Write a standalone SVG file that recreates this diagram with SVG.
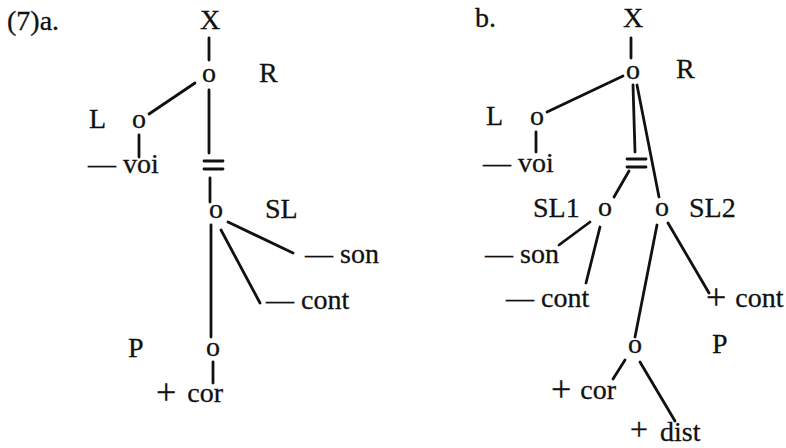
<svg xmlns="http://www.w3.org/2000/svg" width="786" height="448" viewBox="0 0 786 448">
<style>
text{font-family:"Liberation Serif","Times New Roman",serif;font-size:28px;fill:#111;stroke:#111;stroke-width:0.3}
.n{text-anchor:middle}
.p{font-size:36px}
.w{font-size:28px}
.c line{stroke:#111;stroke-width:2.8;stroke-linecap:round}
</style>
<rect width="786" height="448" fill="#fff"/>
<g id="labels">
<text x="7" y="30">(7)a.</text>
<text x="475" y="27">b.</text>
</g>
<g class="c" id="connectors">
<line x1="209" y1="38" x2="209" y2="60"/>
<line x1="195" y1="83" x2="149" y2="114"/>
<line x1="139" y1="135" x2="139" y2="157"/>
<line x1="209" y1="90" x2="209" y2="153"/>
<line x1="204" y1="161" x2="223" y2="161"/>
<line x1="204" y1="169" x2="223" y2="169"/>
<line x1="210" y1="178" x2="210" y2="202"/>
<line x1="228" y1="222" x2="293" y2="253"/>
<line x1="221" y1="230" x2="260" y2="303"/>
<line x1="211" y1="225" x2="211" y2="337"/>
<line x1="213" y1="362" x2="213" y2="383"/>
<line x1="631" y1="38" x2="631" y2="58"/>
<line x1="623" y1="76" x2="547" y2="112"/>
<line x1="536" y1="132" x2="536" y2="152"/>
<line x1="633" y1="85" x2="635" y2="152"/>
<line x1="627" y1="159" x2="646" y2="159"/>
<line x1="627" y1="167" x2="646" y2="167"/>
<line x1="629" y1="171" x2="614" y2="197"/>
<line x1="637" y1="85" x2="659" y2="197"/>
<line x1="590" y1="222" x2="559" y2="245"/>
<line x1="600" y1="227" x2="586" y2="283"/>
<line x1="668" y1="223" x2="709" y2="293"/>
<line x1="657" y1="225" x2="635" y2="337"/>
<line x1="625" y1="360" x2="613" y2="379"/>
<line x1="640" y1="362" x2="675" y2="421"/>
</g>
<g id="a-X"><text class="n" x="210" y="29">X</text></g>
<g id="a-R"><text class="n" x="209" y="82">o</text><text x="259" y="82">R</text></g>
<g id="a-L"><text class="n" x="139" y="128">o</text><text x="89" y="128">L</text></g>
<g id="a-voi"><text x="88" y="173">— voi</text></g>
<g id="a-SL"><text class="n" x="216" y="218">o</text><text x="265" y="218">SL</text></g>
<g id="a-son"><text x="305" y="263">— son</text></g>
<g id="a-cont"><text x="266" y="309">— cont</text></g>
<g id="a-P"><text class="n" x="213" y="356">o</text><text x="128" y="357">P</text></g>
<g id="a-cor"><text class="p" x="156" y="404">+<tspan class="w" dx="4" dy="-2"> cor</tspan></text></g>
<g id="b-X"><text class="n" x="633" y="27">X</text></g>
<g id="b-R"><text class="n" x="633" y="79">o</text><text x="676" y="78">R</text></g>
<g id="b-L"><text class="n" x="537" y="125">o</text><text x="486" y="125">L</text></g>
<g id="b-voi"><text x="483" y="172">— voi</text></g>
<g id="b-SL1"><text class="n" x="605" y="216">o</text><text x="533" y="217">SL1</text></g>
<g id="b-SL2"><text class="n" x="662" y="216">o</text><text x="689" y="217">SL2</text></g>
<g id="b-son"><text x="485" y="263">— son</text></g>
<g id="b-cont1"><text x="506" y="307">— cont</text></g>
<g id="b-cont2"><text class="p" x="706" y="309">+<tspan class="w" dx="2" dy="-2"> cont</tspan></text></g>
<g id="b-P"><text class="n" x="635" y="353">o</text><text x="712" y="353">P</text></g>
<g id="b-cor"><text class="p" x="551" y="401">+<tspan class="w" dx="2" dy="-2"> cor</tspan></text></g>
<g id="b-dist"><text x="630" y="440" style="font-size:32px">+<tspan class="w" dx="5" dy="1"> dist</tspan></text></g>
</svg>
